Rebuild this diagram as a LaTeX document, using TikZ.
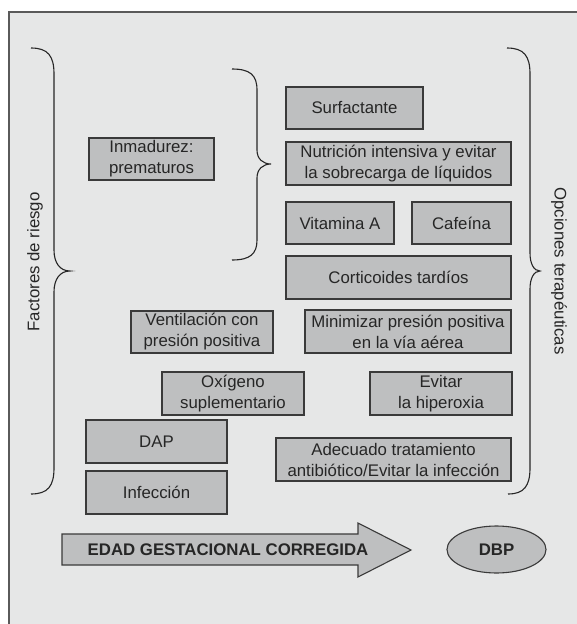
\documentclass[tikz,border=0pt]{standalone}
\usepackage{fontspec}
\setmainfont{Liberation Sans}
\usetikzlibrary{shapes.geometric}
\definecolor{bgc}{HTML}{E6E7E7}
\definecolor{boxc}{HTML}{BEBFC0}
\definecolor{edgec}{HTML}{3A3A3A}
\definecolor{framec}{HTML}{5A5A5A}
\definecolor{txtc}{HTML}{262626}
\tikzset{
  box/.style={draw=edgec, fill=boxc, line width=1.1pt, inner sep=1pt, align=center,
    text=txtc, font=\fontsize{16.8}{21}\selectfont},
  bracec/.style={draw=black!85, line width=1.1pt},
  sidelabel/.style={text=txtc, font=\fontsize{16.8}{21}\selectfont, inner sep=0pt},
}
\begin{document}
\begin{tikzpicture}[x=1pt,y=-1pt]
\useasboundingbox (0,0) rectangle (577,624);
\fill[white] (0,0) rectangle (577,624);
\begin{scope}
\clip (0,0) rectangle (577,624);
\draw[framec, line width=1.5pt, fill=bgc] (9,12) rectangle (620,680);
\end{scope}

% braces
\draw[bracec] (31,48) .. controls (48,48) and (54,56) .. (54,74) -- (54,250)
  .. controls (54,263) and (60,271) .. (70,271)
  .. controls (60,271) and (54,279) .. (54,292) -- (54,468)
  .. controls (54,486) and (48,494) .. (31,494);
\draw[bracec] (232,69) .. controls (250,69) and (257,75) .. (257,90) -- (257,150)
  .. controls (257,159) and (263,164) .. (271,164)
  .. controls (263,164) and (257,169) .. (257,178) -- (257,240)
  .. controls (257,254) and (250,260) .. (232,260);
\draw[bracec] (507,48) .. controls (524,48) and (530,56) .. (530,74) -- (530,253)
  .. controls (530,264) and (534,271) .. (540,271)
  .. controls (534,271) and (530,278) .. (530,289) -- (530,468)
  .. controls (530,486) and (524,494) .. (508,494);

\node[sidelabel, rotate=90] (fact) at (35,262) {Factores de riesgo};
\node[sidelabel, rotate=-90] (opc) at (559,271) {Opciones terapéuticas};

% boxes
\node[box, minimum width=137pt, minimum height=42pt] (surf) at (354.5,108) {Surfactante};
\node[box, minimum width=225pt, minimum height=43pt] (nutr) at (398.5,163.5) {Nutrición intensiva y evitar\\la sobrecarga de líquidos};
\node[box, minimum width=108pt, minimum height=42pt] (vita) at (340,223) {Vitamina A};
\node[box, minimum width=99pt, minimum height=42pt] (caf) at (461.5,223) {Cafeína};
\node[box, minimum width=225pt, minimum height=43pt] (cort) at (398.5,277.5) {Corticoides tardíos};
\node[box, minimum width=125pt, minimum height=42pt] (inm) at (151.5,159) {Inmadurez:\\prematuros};
\node[box, minimum width=142pt, minimum height=42pt] (vent) at (202,332) {Ventilación con\\presión positiva};
\node[box, minimum width=206pt, minimum height=43pt] (mini) at (408,331.5) {Minimizar presión positiva\\en la vía aérea};
\node[box, minimum width=142pt, minimum height=43pt] (oxi) at (233,393.5) {Oxígeno\\suplementario};
\node[box, minimum width=142pt, minimum height=43pt] (evit) at (441,393.5) {Evitar\\la hiperoxia};
\node[box, minimum width=141pt, minimum height=43pt] (dap) at (156.5,441.5) {DAP};
\node[box, minimum width=141pt, minimum height=43pt] (infe) at (156.5,492.5) {Infección};
\node[box, minimum width=235pt, minimum height=43pt] (adec) at (393.5,459.5) {Adecuado tratamiento\\antibiótico/Evitar la infección};

% arrow
\draw[draw=edgec, fill=boxc, line width=1.1pt, line join=miter]
  (62,534) -- (358,534) -- (358,523) -- (411,550) -- (358,577) -- (358,565) -- (62,565) -- cycle;
\node[text=txtc, font=\fontsize{16.8}{21}\bfseries] (edad) at (228,550) {EDAD GESTACIONAL CORREGIDA};
\node[ellipse, draw=edgec, fill=boxc, line width=1.1pt, minimum width=99pt, minimum height=47pt,
  text=txtc, font=\fontsize{16.8}{21}\bfseries, inner sep=0pt] (dbp) at (496.5,549.5) {DBP};
\end{tikzpicture}
\end{document}
